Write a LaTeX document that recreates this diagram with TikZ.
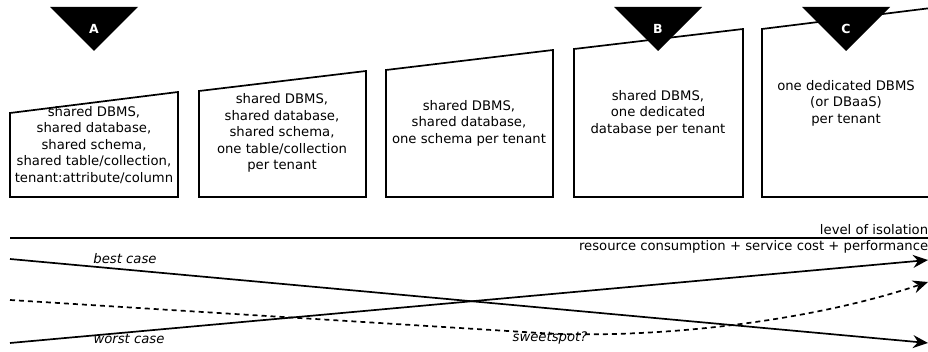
\documentclass[tikz,border=0pt]{standalone}
\usepackage{fontspec}
\setmainfont{DejaVu Sans}
\usetikzlibrary{arrows.meta}

\begin{document}
\begin{tikzpicture}[x=1pt,y=-1pt,line width=1.7pt,
  >={Stealth[length=15pt,width=13pt,inset=5pt]},
  lbl/.style={font=\fontsize{13.2}{16.5}\selectfont,align=center,inner sep=0pt},
  note/.style={font=\fontsize{13.2}{16.5}\selectfont\itshape,inner sep=0pt},
  tag/.style={text=white,font=\bfseries\fontsize{12.5}{14}\selectfont,inner sep=0pt}]
\useasboundingbox (0,0) rectangle (928,352);
\draw (10,197) -- (10,113) -- (178,92) -- (178,197) -- cycle;
\draw (199,197) -- (199,91) -- (366,71) -- (366,197) -- cycle;
\draw (386,197) -- (386,70) -- (553,50) -- (553,197) -- cycle;
\draw (574,197) -- (574,49) -- (743,29) -- (743,197) -- cycle;
\draw (762,197) -- (762,29) -- (931,8) -- (931,197) -- cycle;
\node[lbl] (t1) at (94,145) {shared DBMS,\\shared database,\\shared schema,\\shared table/collection,\\tenant:attribute/column};
\node[lbl] (t2) at (282,133) {shared DBMS,\\shared database,\\shared schema,\\one table/collection\\per tenant};
\node[lbl] (t3) at (469,123) {shared DBMS,\\shared database,\\one schema per tenant};
\node[lbl] (t4) at (658,113) {shared DBMS,\\one dedicated\\database per tenant};
\node[lbl] (t5) at (846,103) {one dedicated DBMS\\(or DBaaS)\\per tenant};
\fill (50,7) -- (138,7) -- (94,51) -- cycle;
\fill (614,7) -- (702,7) -- (658,51) -- cycle;
\fill (802,7) -- (890,7) -- (846,51) -- cycle;
\node[tag] (tA) at (94,29) {A};
\node[tag] (tB) at (658,29) {B};
\node[tag] (tC) at (846,29) {C};
\coordinate (iso0) at (10,238);
\coordinate (iso1) at (931,238);
\coordinate (best0) at (10,259);
\coordinate (best1) at (928,343);
\coordinate (worst0) at (10,343);
\coordinate (worst1) at (928,260);
\coordinate (sw0) at (10,300);
\coordinate (sw1) at (540,333);
\coordinate (sw2) at (928,282);
\draw (iso0) -- (iso1);
\node[lbl,anchor=base east] (iso) at (929,235) {level of isolation};
\node[lbl,anchor=base east] (cost) at (929,251) {resource consumption + service cost + performance};
\draw[->] (best0) -- (best1);
\draw[->] (worst0) -- (worst1);
\draw[->,dash pattern=on 5pt off 4pt] (sw0) -- (sw1) .. controls (640,339) and (800,325) .. (sw2);
\node[note] (nb) at (125,259) {best case};
\node[note] (nw) at (129,339) {worst case};
\node[note] (ns) at (550,338) {sweetspot?};
\end{tikzpicture}
\end{document}
